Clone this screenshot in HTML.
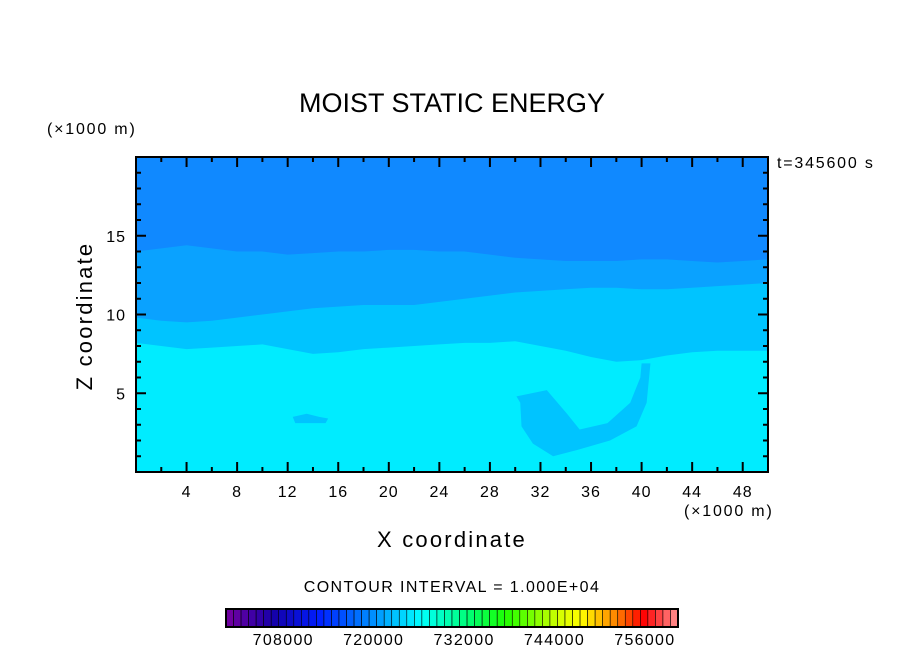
<!DOCTYPE html>
<html><head><meta charset="utf-8"><style>
body{margin:0;background:#fff;width:904px;height:654px;overflow:hidden}
svg{font-family:"Liberation Sans",sans-serif}
</style></head><body>
<svg id="chart" width="904" height="654">
<text x="452" y="112" font-size="27" text-anchor="middle">MOIST STATIC ENERGY</text>
<text x="47" y="134" font-size="16" letter-spacing="1.8">(×1000 m)</text>
<text x="777" y="168" font-size="16" letter-spacing="1.8">t=345600 s</text>
<text x="684" y="516" font-size="16" letter-spacing="1.8">(×1000 m)</text>
<text x="452" y="547" font-size="22" letter-spacing="2.2" text-anchor="middle">X coordinate</text>
<text transform="translate(92,316) rotate(-90)" font-size="22" letter-spacing="2.2" text-anchor="middle">Z coordinate</text>
<text x="452" y="592" font-size="16" letter-spacing="1.4" text-anchor="middle">CONTOUR INTERVAL = 1.000E+04</text>
<g id="field"></g><g id="axes"></g><g id="cbar"></g>
</svg>
<script>
const xs=[0,2,4,6,8,10,12,14,16,18,20,22,24,26,28,30,32,34,36,38,40,42,44,46,48,50];
const bottomTop=[8.2,8.0,7.8,7.9,8.0,8.1,7.8,7.5,7.6,7.8,7.9,8.0,8.1,8.2,8.2,8.3,8.0,7.7,7.3,7.0,7.1,7.4,7.6,7.7,7.7,7.7];
const lowerTop=[9.8,9.6,9.5,9.6,9.8,10.0,10.2,10.4,10.5,10.6,10.6,10.6,10.8,11.0,11.2,11.4,11.5,11.6,11.7,11.7,11.6,11.6,11.7,11.8,11.9,12.0];
const midTop=[14.0,14.2,14.4,14.2,14.0,14.0,13.8,13.9,14.0,14.0,14.1,14.1,14.0,14.0,13.8,13.6,13.5,13.4,13.4,13.4,13.5,13.5,13.4,13.3,13.4,13.5];
const blobX=[30.1,32.5,34.1,35.1,37.3,39.1,39.9,40.0,40.7,40.4,39.6,37.5,34.9,33.0,31.4,30.5,30.4];
const blobZ=[4.8,5.2,3.7,2.7,3.1,4.4,6.0,6.9,6.9,4.4,2.9,2.0,1.4,1.0,1.8,2.9,4.4];
const patchX=[12.4,13.5,14.5,15.2,15.0,13.8,12.6];
const patchZ=[3.5,3.7,3.5,3.4,3.1,3.1,3.1];
const xTicks=[4,8,12,16,20,24,28,32,36,40,44,48];
const zTicks=[5,10,15];
const cbarLabels=[708000,720000,732000,744000,756000];
const cbarMin=700000,cbarMax=760000,cbarStep=1000;

const L=136,R=768,B=472,T=157;
const X=x=>L+(x-0)/50*(R-L);
const Z=z=>B-z*15.75;
const NS='http://www.w3.org/2000/svg';
function mk(t,a,p){const e=document.createElementNS(NS,t);for(const k in a)e.setAttribute(k,a[k]);p.appendChild(e);return e;}
const F=document.getElementById('field');
function band(top,color,name){
  let d='M'+X(0)+','+B;
  xs.forEach((x,i)=>{d+=' L'+X(x)+','+(top?Z(top[i]):T);});
  d+=' L'+X(50)+','+B+'Z';
  const p=mk('path',{d:d,fill:color},F);
  
  
}
band(null,'#1089ff','upper-band');
band(midTop,'#0aa2ff','middle-band');
band(lowerTop,'#00c4ff','lower-band');
band(bottomTop,'#00ecff','bottom-band');
function blob(ax,az,name){
  const d='M'+ax.map((x,i)=>X(x)+','+Z(az[i])).join(' L')+'Z';
  const p=mk('path',{d:d,fill:'#00c4ff'},F);
  
  
}
blob(blobX,blobZ,'low-energy-plume');
blob(patchX,patchZ,'low-energy-patch');

const A=document.getElementById('axes');
const fr=mk('rect',{x:L,y:T,width:R-L,height:B-T,fill:'none',stroke:'#000','stroke-width':2},A);


for(let x=2;x<50;x+=2){const maj=x%4==0,len=maj?10:5;
  mk('line',{x1:X(x),x2:X(x),y1:B,y2:B-len,stroke:'#000','stroke-width':2},A);
  mk('line',{x1:X(x),x2:X(x),y1:T,y2:T+len,stroke:'#000','stroke-width':2},A);}
for(let z=1;z<20;z++){const maj=z%5==0,len=maj?10:5;
  mk('line',{x1:L,x2:L+len,y1:Z(z),y2:Z(z),stroke:'#000','stroke-width':2},A);
  mk('line',{x1:R,x2:R-len,y1:Z(z),y2:Z(z),stroke:'#000','stroke-width':2},A);}
xTicks.forEach(x=>{const t=mk('text',{x:X(x),y:497,'font-size':16,'letter-spacing':1,'text-anchor':'middle'},A);t.textContent=x;
  
  });
zTicks.forEach(z=>{const t=mk('text',{x:126,y:Z(z)+6,'font-size':16,'letter-spacing':1,'text-anchor':'end'},A);t.textContent=z;
  
  });

const C=document.getElementById('cbar');
const stops=[[0,[110,0,160]],[0.1,[20,0,170]],[0.2,[0,30,255]],[0.33,[0,150,255]],[0.43,[0,255,255]],[0.55,[0,255,100]],[0.62,[30,255,0]],[0.74,[210,255,0]],[0.79,[255,255,0]],[0.87,[255,130,0]],[0.93,[255,0,0]],[1,[255,130,130]]];
function col(f){for(let i=1;i<stops.length;i++){if(f<=stops[i][0]){const a=stops[i-1],b=stops[i],t=(f-a[0])/(b[0]-a[0]);return 'rgb('+a[1].map((v,k)=>Math.round(v+(b[1][k]-v)*t)).join(',')+')';}}return 'rgb(255,130,130)';}
const cx0=226,cx1=678,cy=609,ch=18;
const CX=v=>cx0+(v-cbarMin)/(cbarMax-cbarMin)*(cx1-cx0);
const n=(cbarMax-cbarMin)/cbarStep;
for(let i=0;i<n;i++){const v=cbarMin+i*cbarStep;
  const r=mk('rect',{x:CX(v),y:cy,width:CX(v+cbarStep)-CX(v),height:ch,fill:col(i/(n-1)),stroke:'#000','stroke-width':0.6},C);
  
  }
mk('rect',{x:cx0,y:cy,width:cx1-cx0,height:ch,fill:'none',stroke:'#000','stroke-width':2},C);
cbarLabels.forEach(v=>{const t=mk('text',{x:CX(v)-3,y:645,'font-size':16,'letter-spacing':1.3,'text-anchor':'middle'},C);t.textContent=v;
  
  });
</script>
</body></html>
